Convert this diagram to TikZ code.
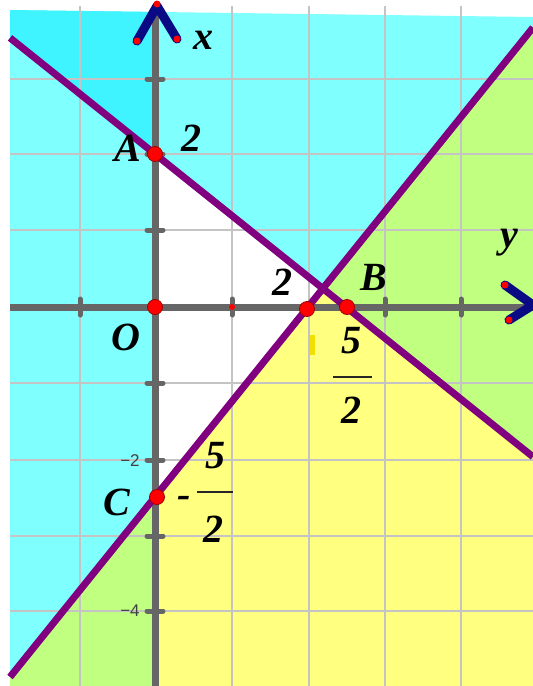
\documentclass[tikz,border=0pt]{standalone}
\usepackage{fontspec}
\setmainfont{Liberation Serif}
\setsansfont{Liberation Sans}
\definecolor{cyanL}{HTML}{80FFFF}
\definecolor{cyanD}{HTML}{40F4FF}
\definecolor{yel}{HTML}{FFFF80}
\definecolor{grn}{HTML}{C0FF80}
\definecolor{pur}{HTML}{800080}
\definecolor{axg}{HTML}{666666}
\definecolor{grd}{HTML}{C4C4C4}
\definecolor{nav}{HTML}{0A0A85}
\definecolor{dotr}{HTML}{FF0000}
\definecolor{dotb}{HTML}{A00000}
\definecolor{marky}{HTML}{F2E000}
\begin{document}
\begin{tikzpicture}[x=1pt,y=-1pt,
  gridline/.style={grd,line width=2.2pt},
  axisline/.style={axg,line width=7pt},
  tickmark/.style={axg,line width=5pt,line cap=round},
  boundary/.style={pur,line width=7pt},
  chevron/.style={nav,line width=9pt,line cap=round,line join=round},
  pt/.style={circle,fill=dotr,draw=dotb,line width=0.8pt,inner sep=0pt,minimum size=15pt},
  smallpt/.style={circle,fill=dotr,inner sep=0pt,minimum size=6pt},
  endpt/.style={circle,fill=dotr,inner sep=0pt,minimum size=7pt},
  lab/.style={font=\fontsize{40}{40}\selectfont\bfseries\itshape,inner sep=0pt},
  ticklab/.style={font=\sffamily\fontsize{17}{17}\selectfont,text=black!75,inner sep=0pt}]
\useasboundingbox (0,0) rectangle (533,686);
% key points
\coordinate (O) at (155,307);
\coordinate (A) at (155,154);
\coordinate (C) at (155,497);
\coordinate (P2) at (308,307);
\coordinate (B) at (346,307);
\coordinate (I) at (322.9,288.5);
\coordinate (L1a) at (10,37.9);
\coordinate (L1b) at (533,456.8);
\coordinate (L2a) at (10,677);
\coordinate (L2b) at (533,27.6);
% shaded regions
\begin{scope}
\clip (10,10) -- (533,17) -- (533,686) -- (10,686) -- cycle;
\fill[cyanL] (0,0) rectangle (533,686);
\fill[cyanD] (10,10) -- (155,11.9) -- (A) -- (L1a) -- cycle;
\fill[white] (A) -- (I) -- (C) -- cycle;
\fill[yel] (C) -- (I) -- (L1b) -- (533,686) -- (155,686) -- cycle;
\fill[grn] (I) -- (L2b) -- (L1b) -- cycle;
\fill[grn] (L2a) -- (C) -- (155,686) -- (10,686) -- cycle;
\end{scope}
% grid
\foreach \gx in {80,232,309,385,461}
  \draw[gridline] (\gx,6) -- (\gx,686);
\foreach \gy in {79,154,230,383,460,536,611}
  \draw[gridline] (10,\gy) -- (533,\gy);
% axes
\draw[axisline] (10,307) -- (533,307);
\draw[axisline] (155,10) -- (155,686);
\foreach \ty in {79,154,230,383,460,536,611}
  \draw[tickmark] (147,\ty) -- (163,\ty);
\foreach \tx in {80,232,385,461}
  \draw[tickmark] (\tx,299) -- (\tx,315);
% axis arrows
\coordinate (VA) at (157,6);
\coordinate (VL) at (137,41);
\coordinate (VR) at (177,39);
\draw[chevron] (VL) -- (VA) -- (VR);
\node[endpt] (vl) at (VL) {};
\node[endpt] (vr) at (VR) {};
\node[endpt] (va) at (157,4) {};
\coordinate (HA) at (533,305);
\coordinate (HU) at (505,285);
\coordinate (HD) at (509,320);
\draw[chevron] (HU) -- (HA) -- (HD);
\node[endpt] (hu) at (HU) {};
\node[endpt] (hd) at (HD) {};
% boundary lines
\draw[boundary] (L1a) -- (L1b);
\draw[boundary] (L2a) -- (L2b);
% points
\node[smallpt] (t1) at (232,307) {};
\node[pt] (pA) at (A) {};
\node[pt] (pO) at (O) {};
\node[pt] (pP) at (307,309) {};
\node[pt] (pB) at (347,307) {};
\node[pt] (pC) at (157,497) {};
% labels
\node[lab] (lx) at (203,40) {x};
\node[lab] (ly) at (509,243) {y};
\node[lab] (lA) at (128,148) {A};
\node[lab] (l2a) at (191,138) {2};
\node[lab] (lO) at (126,337) {O};
\node[lab] (l2b) at (282,282) {2};
\node[lab] (lB) at (374,277) {B};
\node[lab] (l5b) at (351,341) {5};
\node[lab] (l2c) at (351,410) {2};
\draw[black!85,line width=2pt] (333,377) -- (372,377);
\node[lab] (lC) at (117,502) {C};
\node[lab] (lm) at (184,502) {-};
\node[lab] (l5c) at (215,456) {5};
\node[lab] (l2d) at (213,529) {2};
\draw[black!85,line width=2pt] (197,492) -- (233,492);
\node[ticklab] (tm2) at (130,461) {−2};
\node[ticklab] (tm4) at (130,611) {−4};
\fill[marky] (310,335) rectangle (315,355);
\end{tikzpicture}
\end{document}
